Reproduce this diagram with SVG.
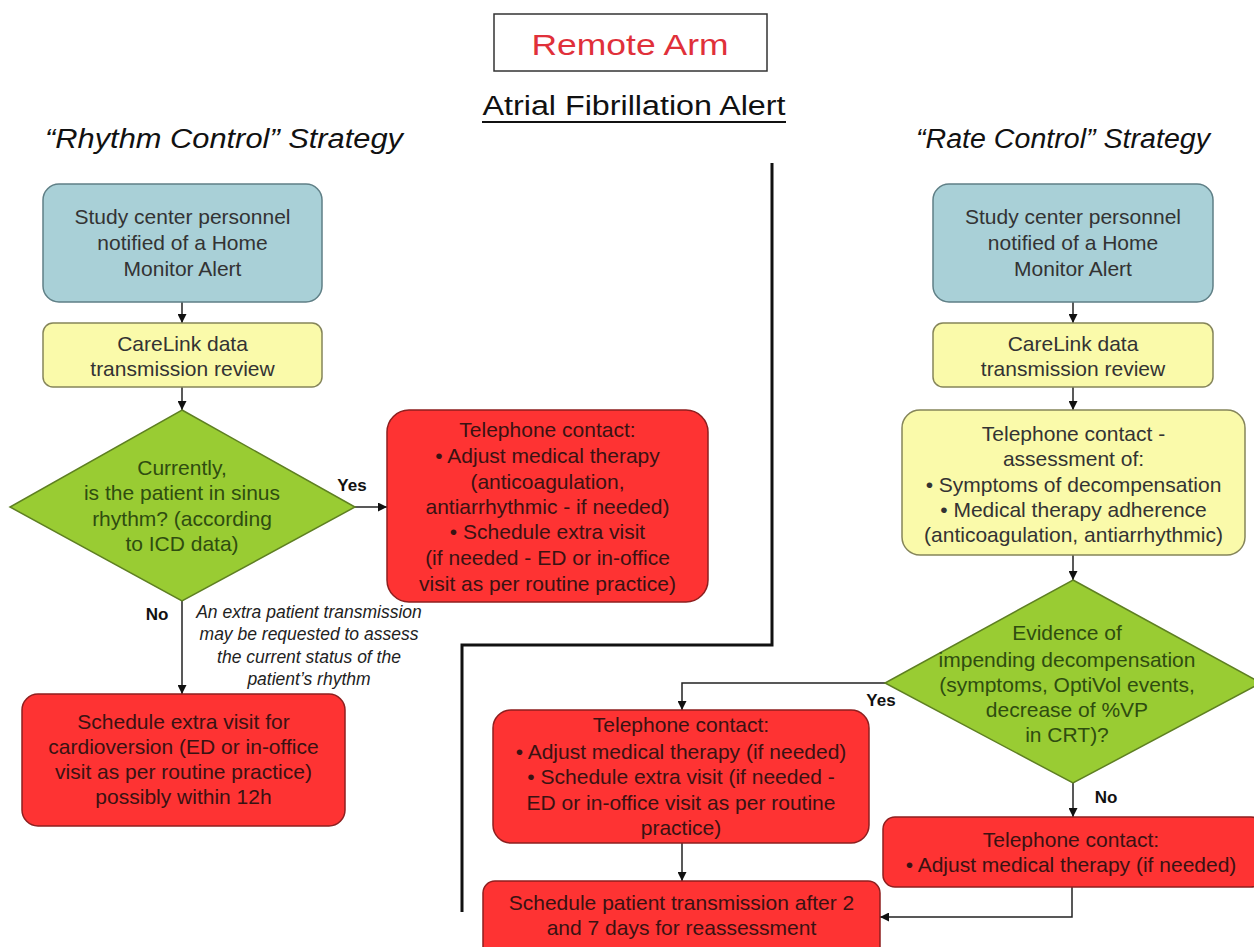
<svg xmlns="http://www.w3.org/2000/svg" width="1254" height="947" viewBox="0 0 1254 947">
<style>
.t{font-family:"Liberation Sans",Arial,sans-serif;font-size:21px;text-anchor:middle}
.blue{fill:#a9d0d7;stroke:#5f7f86;stroke-width:1.5}
.yel{fill:#fafaaa;stroke:#85855a;stroke-width:1.5}
.red{fill:#fe3333;stroke:#8e1f1f;stroke-width:1.5}
.grn{fill:#99cc33;stroke:#5e7f22;stroke-width:1.5}
.tb{fill:#333333}
.tr{fill:#3a1212}
.tg{fill:#2f4d10}
.lbl{font-family:"Liberation Sans",Arial,sans-serif;font-size:17px;font-weight:bold;fill:#111;text-anchor:middle}
.note{font-family:"Liberation Sans",Arial,sans-serif;font-size:17.5px;font-style:italic;fill:#222;text-anchor:middle}
.con{fill:none;stroke:#222;stroke-width:1.5}
.hd{font-family:"Liberation Sans",Arial,sans-serif;font-style:italic;font-size:27px;fill:#111}
</style>
<defs>
<marker id="ah" viewBox="0 0 10 10" refX="10" refY="5" markerWidth="9" markerHeight="9" markerUnits="userSpaceOnUse" orient="auto">
<path d="M0,0 L10,5 L0,10 Z" fill="#111"/>
</marker>
</defs>
<rect width="1254" height="947" fill="#ffffff"/>

<g id="title">
<rect x="494" y="14" width="273" height="57" fill="#fff" stroke="#333" stroke-width="1.5"/>
<text x="630" y="55" font-family="Liberation Sans, Arial, sans-serif" font-size="30" fill="#e0303a" text-anchor="middle" textLength="197" lengthAdjust="spacingAndGlyphs">Remote Arm</text>
</g>
<g id="subtitle">
<text x="634" y="115" font-family="Liberation Sans, Arial, sans-serif" font-size="27" fill="#111" text-anchor="middle" textLength="303" lengthAdjust="spacingAndGlyphs">Atrial Fibrillation Alert</text>
<line x1="482" y1="122" x2="786" y2="122" stroke="#111" stroke-width="2"/>
</g>
<g id="rhythm-heading"><text class="hd" x="45" y="148" textLength="358" lengthAdjust="spacingAndGlyphs">“Rhythm Control” Strategy</text></g>
<g id="rate-heading"><text class="hd" x="916" y="148" textLength="294" lengthAdjust="spacingAndGlyphs">“Rate Control” Strategy</text></g>

<g id="connectors">
<polyline points="772,163 772,645 462,645 462,912" fill="none" stroke="#111" stroke-width="3"/>
<line class="con" x1="182" y1="302" x2="182" y2="323" marker-end="url(#ah)"/>
<line class="con" x1="182" y1="387" x2="182" y2="410" marker-end="url(#ah)"/>
<line class="con" x1="355" y1="507" x2="387" y2="507" marker-end="url(#ah)"/>
<line class="con" x1="182" y1="601" x2="182" y2="694" marker-end="url(#ah)"/>
<line class="con" x1="1073" y1="302" x2="1073" y2="323" marker-end="url(#ah)"/>
<line class="con" x1="1073" y1="387" x2="1073" y2="410" marker-end="url(#ah)"/>
<line class="con" x1="1073" y1="555" x2="1073" y2="580" marker-end="url(#ah)"/>
<polyline class="con" points="885,683 682,683 682,710" marker-end="url(#ah)"/>
<line class="con" x1="1073" y1="783" x2="1073" y2="817" marker-end="url(#ah)"/>
<line class="con" x1="682" y1="843" x2="682" y2="881" marker-end="url(#ah)"/>
<polyline class="con" points="1072,887 1072,917 880,917" marker-end="url(#ah)"/>
<text class="lbl" x="352" y="491">Yes</text>
<text class="lbl" x="157" y="620">No</text>
<text class="lbl" x="881" y="706">Yes</text>
<text class="lbl" x="1106" y="803">No</text>
<text class="note" x="309" y="618">An extra patient transmission</text>
<text class="note" x="309" y="640">may be requested to assess</text>
<text class="note" x="309" y="663">the current status of the</text>
<text class="note" x="309" y="685">patient’s rhythm</text>
</g>

<g id="l-notified">
<rect class="blue" x="43" y="184" width="279" height="118" rx="16"/>
<text class="t tb" x="182.5" y="224">Study center personnel</text>
<text class="t tb" x="182.5" y="250">notified of a Home</text>
<text class="t tb" x="182.5" y="276">Monitor Alert</text>
</g>
<g id="l-carelink">
<rect class="yel" x="43" y="323" width="279" height="64" rx="10"/>
<text class="t tb" x="182.5" y="351">CareLink data</text>
<text class="t tb" x="182.5" y="376">transmission review</text>
</g>
<g id="l-decision">
<polygon class="grn" points="182,410 355,507 182,601 10,507"/>
<text class="t tg" x="182" y="475">Currently,</text>
<text class="t tg" x="182" y="500">is the patient in sinus</text>
<text class="t tg" x="182" y="526">rhythm? (according</text>
<text class="t tg" x="182" y="551">to ICD data)</text>
</g>
<g id="l-yes-phone">
<rect class="red" x="387" y="410" width="321" height="192" rx="22"/>
<text class="t tr" x="547.5" y="437">Telephone contact:</text>
<text class="t tr" x="547.5" y="463">• Adjust medical therapy</text>
<text class="t tr" x="547.5" y="489">(anticoagulation,</text>
<text class="t tr" x="547.5" y="514">antiarrhythmic - if needed)</text>
<text class="t tr" x="547.5" y="539">• Schedule extra visit</text>
<text class="t tr" x="547.5" y="565">(if needed - ED or in-office</text>
<text class="t tr" x="547.5" y="591">visit as per routine practice)</text>
</g>
<g id="l-no-visit">
<rect class="red" x="22" y="694" width="323" height="132" rx="16"/>
<text class="t tr" x="183.5" y="729">Schedule extra visit for</text>
<text class="t tr" x="183.5" y="754">cardioversion (ED or in-office</text>
<text class="t tr" x="183.5" y="779">visit as per routine practice)</text>
<text class="t tr" x="183.5" y="804">possibly within 12h</text>
</g>

<g id="r-notified">
<rect class="blue" x="933" y="184" width="280" height="118" rx="16"/>
<text class="t tb" x="1073" y="224">Study center personnel</text>
<text class="t tb" x="1073" y="250">notified of a Home</text>
<text class="t tb" x="1073" y="276">Monitor Alert</text>
</g>
<g id="r-carelink">
<rect class="yel" x="933" y="323" width="280" height="64" rx="10"/>
<text class="t tb" x="1073" y="351">CareLink data</text>
<text class="t tb" x="1073" y="376">transmission review</text>
</g>
<g id="r-assessment">
<rect class="yel" x="902" y="410" width="343" height="145" rx="18"/>
<text class="t tb" x="1073.5" y="441">Telephone contact -</text>
<text class="t tb" x="1073.5" y="466">assessment of:</text>
<text class="t tb" x="1073.5" y="492">• Symptoms of decompensation</text>
<text class="t tb" x="1073.5" y="517">• Medical therapy adherence</text>
<text class="t tb" x="1073.5" y="542">(anticoagulation, antiarrhythmic)</text>
</g>
<g id="r-decision">
<polygon class="grn" points="1073,580 1261,683 1073,783 885,683"/>
<text class="t tg" x="1067" y="640">Evidence of</text>
<text class="t tg" x="1067" y="667">impending decompensation</text>
<text class="t tg" x="1067" y="692">(symptoms, OptiVol events,</text>
<text class="t tg" x="1067" y="717">decrease of %VP</text>
<text class="t tg" x="1067" y="742">in CRT)?</text>
</g>
<g id="r-yes-phone">
<rect class="red" x="493" y="710" width="376" height="133" rx="18"/>
<text class="t tr" x="681" y="732">Telephone contact:</text>
<text class="t tr" x="681" y="759">• Adjust medical therapy (if needed)</text>
<text class="t tr" x="681" y="784">• Schedule extra visit (if needed -</text>
<text class="t tr" x="681" y="810">ED or in-office visit as per routine</text>
<text class="t tr" x="681" y="835">practice)</text>
</g>
<g id="r-no-phone">
<rect class="red" x="883" y="817" width="380" height="70" rx="12"/>
<text class="t tr" x="1071" y="847">Telephone contact:</text>
<text class="t tr" x="1071" y="872">• Adjust medical therapy (if needed)</text>
</g>
<g id="r-schedule">
<rect class="red" x="483" y="881" width="397" height="80" rx="12"/>
<text class="t tr" x="681.5" y="910">Schedule patient transmission after 2</text>
<text class="t tr" x="681.5" y="935">and 7 days for reassessment</text>
</g>
</svg>
